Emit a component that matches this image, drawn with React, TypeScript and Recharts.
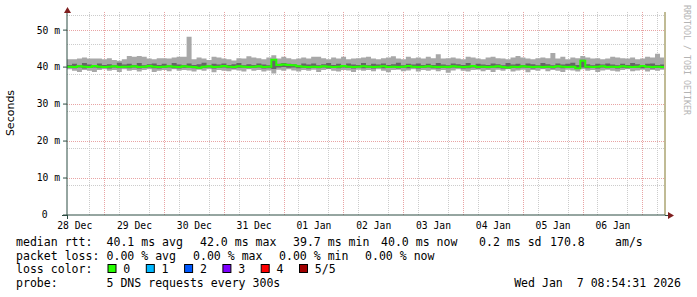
import React from "react";
import { ComposedChart, Area, Line, XAxis, YAxis, CartesianGrid, ReferenceLine } from "recharts";

// time axis in hours from 28 Dec 00:00, one bin = 2h, graph ends Wed Jan 7 08:54
const START_HOUR = 8.9;
const STEP_HOURS = 2;
const END_HOUR = 248.9;

const DAY_TICKS = [12, 36, 60, 84, 108, 132, 156, 180, 204, 228];
const DAY_LABELS = ["28 Dec", "29 Dec", "30 Dec", "31 Dec", "01 Jan", "02 Jan", "03 Jan", "04 Jan", "05 Jan", "06 Jan"];
const Y_TICKS = [0, 10, 20, 30, 40, 50];

const MINOR_V = [12, 18, 30, 36, 42, 54, 60, 66, 78, 84, 90, 102, 108, 114, 126, 132, 138, 150, 156, 162, 174, 180, 186, 198, 204, 210, 222, 228, 234, 246];
const MAJOR_V = [24, 48, 72, 96, 120, 144, 168, 192, 216, 240];
const MINOR_H = [2, 4, 6, 8, 12, 14, 16, 18, 22, 24, 26, 28, 32, 34, 36, 38, 42, 44, 46, 48, 52, 54];
const MAJOR_H = [10, 20, 30, 40, 50];

// smoke, in ms: max ping, 4th, median, 2nd, min ping (12 bins per day)
const MAX_RTT = [
  42.1, 42.1, 42.3, 42.6, 42.3, 42.3, 42.3, 42.1, 42.4, 41.9, 41.7, 42.1,
  43.0, 42.8, 43.0, 42.8, 42.3, 42.1, 42.4, 42.4, 42.3, 42.6, 42.8, 42.8,
  48.2, 42.1, 42.6, 42.3, 41.9, 42.8, 42.6, 42.3, 42.1, 41.8, 42.4, 42.3,
  42.9, 42.6, 42.4, 42.1, 42.6, 43.2, 42.3, 42.8, 42.4, 42.1, 42.3, 42.6,
  42.3, 42.8, 42.8, 42.4, 42.1, 42.6, 42.3, 42.8, 42.1, 42.3, 42.4, 42.6,
  42.8, 42.3, 42.1, 42.4, 42.6, 42.9, 42.3, 42.1, 42.8, 42.4, 42.6, 42.3,
  42.8, 42.4, 43.5, 42.3, 42.4, 42.6, 42.3, 42.1, 42.8, 42.6, 42.3, 42.1,
  42.6, 42.8, 42.4, 42.3, 42.1, 42.6, 43.0, 42.6, 42.3, 42.1, 42.4, 42.6,
  42.4, 43.8, 42.3, 42.8, 42.1, 42.6, 42.4, 43.0, 42.6, 42.3, 42.4, 42.1,
  42.3, 42.8, 42.6, 42.4, 42.3, 42.6, 42.1, 42.3, 42.8, 42.6, 43.6, 42.6,
];
const Q4_RTT = [
  40.6, 40.9, 40.5, 41.1, 40.7, 40.5, 41.0, 40.6, 40.8, 40.5, 41.2, 40.7,
  40.9, 40.6, 41.1, 40.5, 40.8, 41.0, 40.6, 40.9, 40.5, 41.1, 40.7, 40.6,
  41.0, 40.6, 40.8, 41.2, 40.5, 40.9, 40.7, 41.0, 40.6, 40.8, 41.1, 40.5,
  40.8, 40.6, 41.0, 40.7, 40.5, 42.2, 40.9, 41.1, 40.9, 40.8, 40.5, 41.0,
  40.7, 41.0, 40.5, 40.8, 41.1, 40.6, 40.9, 40.5, 41.0, 40.7, 40.6, 41.1,
  40.5, 40.9, 40.7, 41.0, 40.6, 40.8, 41.2, 40.5, 40.9, 40.7, 41.0, 40.6,
  40.9, 40.6, 41.1, 40.7, 40.5, 41.0, 40.8, 40.6, 41.1, 40.5, 40.9, 40.7,
  40.6, 41.0, 40.8, 40.5, 41.1, 40.7, 40.9, 40.6, 41.0, 40.8, 40.5, 41.1,
  40.8, 40.5, 41.0, 40.7, 40.9, 41.2, 40.6, 42.0, 40.8, 40.5, 40.9, 40.7,
  41.0, 40.7, 40.5, 40.9, 40.6, 41.1, 40.8, 40.5, 40.9, 41.0, 40.6, 40.7,
];
const MEDIAN_RTT = [
  40.1, 40.0, 40.2, 40.1, 40.0, 40.3, 40.1, 40.0, 40.1, 40.2, 40.0, 40.1,
  40.1, 40.2, 40.0, 40.1, 40.3, 40.1, 40.0, 40.1, 40.2, 40.1, 40.0, 40.2,
  40.1, 40.0, 39.8, 40.1, 40.2, 40.0, 40.1, 40.3, 40.1, 40.0, 40.2, 40.1,
  40.0, 40.1, 40.2, 40.0, 40.1, 42.0, 40.6, 40.7, 40.6, 40.5, 40.2, 40.1,
  40.0, 40.1, 40.0, 40.2, 40.1, 40.0, 40.1, 40.3, 40.1, 40.0, 40.1, 40.2,
  40.1, 40.0, 40.1, 40.2, 40.0, 40.1, 40.0, 40.1, 40.3, 40.1, 40.0, 40.1,
  40.2, 40.1, 40.0, 40.1, 40.0, 40.2, 40.1, 40.0, 40.1, 40.3, 40.0, 40.1,
  40.0, 40.1, 40.2, 40.0, 39.9, 40.1, 40.0, 40.2, 40.1, 40.0, 40.1, 40.0,
  40.1, 40.0, 40.2, 40.1, 40.0, 40.1, 39.7, 41.7, 40.1, 40.0, 40.1, 40.2,
  40.0, 40.1, 40.0, 40.2, 40.1, 40.0, 40.1, 40.3, 40.1, 40.0, 40.1, 40.0,
];
const Q2_RTT = [
  39.8, 39.7, 39.9, 39.6, 39.8, 39.9, 39.7, 39.8, 39.6, 39.9, 39.7, 39.8,
  39.7, 39.9, 39.6, 39.8, 39.9, 39.7, 39.6, 39.8, 39.9, 39.7, 39.6, 39.8,
  39.9, 39.7, 39.6, 39.8, 39.9, 39.6, 39.8, 39.9, 39.7, 39.6, 39.8, 39.9,
  39.7, 39.8, 39.9, 39.6, 39.7, 39.5, 39.9, 40.0, 39.8, 39.9, 39.7, 39.8,
  39.6, 39.8, 39.7, 39.9, 39.6, 39.8, 39.7, 39.9, 39.8, 39.6, 39.9, 39.7,
  39.8, 39.6, 39.9, 39.7, 39.8, 39.9, 39.6, 39.8, 39.7, 39.9, 39.6, 39.8,
  39.9, 39.7, 39.6, 39.8, 39.7, 39.9, 39.8, 39.6, 39.7, 39.9, 39.6, 39.8,
  39.7, 39.9, 39.8, 39.6, 39.6, 39.8, 39.7, 39.9, 39.8, 39.6, 39.9, 39.7,
  39.8, 39.6, 39.9, 39.7, 39.8, 39.9, 39.6, 39.9, 39.7, 39.8, 39.6, 39.9,
  39.7, 39.9, 39.6, 39.8, 39.7, 39.9, 39.8, 39.7, 39.9, 39.6, 39.8, 39.7,
];
const MIN_RTT = [
  39.4, 39.0, 38.7, 39.2, 39.0, 38.7, 39.2, 39.4, 39.0, 39.2, 38.7, 39.4,
  39.0, 39.2, 38.8, 39.2, 39.4, 38.7, 39.0, 39.2, 38.9, 39.4, 39.0, 39.2,
  39.1, 38.8, 39.3, 39.0, 39.4, 38.6, 39.2, 39.0, 38.9, 39.3, 39.1, 38.8,
  39.4, 39.0, 39.2, 38.8, 39.1, 38.3, 39.3, 39.0, 39.4, 39.1, 38.8, 39.2,
  39.0, 39.3, 38.7, 39.2, 39.4, 39.0, 38.8, 39.2, 39.1, 38.7, 39.3, 39.0,
  39.2, 38.9, 39.4, 39.0, 38.6, 39.2, 39.3, 38.9, 39.1, 39.4, 38.8, 39.2,
  39.0, 39.3, 38.9, 39.2, 38.5, 39.1, 39.4, 39.0, 38.8, 39.2, 39.3, 38.9,
  39.2, 38.7, 39.3, 39.0, 39.4, 38.8, 39.1, 39.3, 38.6, 39.2, 39.0, 39.4,
  38.9, 39.2, 39.0, 38.7, 39.3, 39.1, 38.8, 39.4, 39.0, 39.2, 38.7, 39.1,
  39.3, 39.0, 38.8, 39.2, 39.4, 38.9, 39.1, 39.3, 38.8, 39.2, 39.0, 39.3,
];

const LOSS_COLORS = [
  { label: "0", color: "#26ff00" },
  { label: "1", color: "#00b8ff" },
  { label: "2", color: "#0059ff" },
  { label: "3", color: "#7e00ff" },
  { label: "4", color: "#ff0000" },
  { label: "5/5", color: "#a10000" },
];

const RTT_LINE = [
  { x: 16, text: "median rtt:" },
  { x: 106.5, text: "40.1 ms avg" },
  { x: 200, text: "42.0 ms max" },
  { x: 293, text: "39.7 ms min" },
  { x: 381, text: "40.0 ms now" },
  { x: 479, text: "0.2 ms sd" },
  { x: 550, text: "170.8" },
  { x: 615, text: "am/s" },
];
const LOSS_LINE = [
  { x: 16, text: "packet loss:" },
  { x: 106.5, text: "0.00 % avg" },
  { x: 193, text: "0.00 % max" },
  { x: 279, text: "0.00 % min" },
  { x: 365, text: "0.00 % now" },
];

const rows = MAX_RTT.map((hi, i) => ({
  t: START_HOUR + STEP_HOURS * i,
  hi,
  q4: Q4_RTT[i],
  med: MEDIAN_RTT[i],
  q2: Q2_RTT[i],
  lo: MIN_RTT[i],
}));
rows.push({ ...rows[rows.length - 1], t: END_HOUR });

const MONO = "'DejaVu Sans Mono', monospace";
const AXIS = "#2c4d43";
const ARROW = "#7f1f1f";
const PRE = { whiteSpace: "pre" as const };

const YTick = (props: any) => {
  const { x, y, payload } = props;
  const v = payload.value;
  return (
    <text x={v === 0 ? x - 12.5 : x} y={y} dy={3.4} textAnchor="end" fontFamily={MONO} fontSize={9.7} fill="#000">
      {v === 0 ? "0" : `${v} m`}
    </text>
  );
};

const XTick = (props: any) => {
  const { x, y, payload } = props;
  const idx = DAY_TICKS.indexOf(payload.value);
  return (
    <text x={x} y={y} dy={13.5} textAnchor="middle" fontFamily={MONO} fontSize={9.7} fill="#000">
      {DAY_LABELS[idx]}
    </text>
  );
};

export default function App() {
  return (
    <div style={{ position: "absolute", left: 0, top: 0, width: 697, height: 297, background: "#fff" }}>
      <ComposedChart width={697} height={297} data={rows} margin={{ top: 12, right: 32, bottom: 62, left: 0 }}>
        <CartesianGrid
          stroke="#cccccc"
          strokeDasharray="1 1"
          shapeRendering="crispEdges"
          verticalValues={MINOR_V}
          horizontalValues={MINOR_H}
        />
        <CartesianGrid
          stroke="#e8a4a4"
          strokeDasharray="1 1"
          shapeRendering="crispEdges"
          verticalValues={MAJOR_V}
          horizontalValues={MAJOR_H}
        />
        <XAxis
          dataKey="t"
          type="number"
          domain={[START_HOUR, END_HOUR]}
          ticks={DAY_TICKS}
          tick={<XTick />}
          tickLine={false}
          tickSize={0}
          tickMargin={0}
          height={20}
          stroke={AXIS}
          allowDataOverflow
        />
        <YAxis
          type="number"
          domain={[0, 54.9]}
          ticks={Y_TICKS}
          tick={<YTick />}
          tickSize={4}
          tickMargin={3}
          width={67}
          stroke={AXIS}
          allowDataOverflow
        />
        <Area
          type="stepAfter"
          dataKey={(d: any) => [d.lo, d.hi]}
          fill="#a8a8a8"
          fillOpacity={1}
          stroke="none"
          isAnimationActive={false}
        />
        <Area
          type="stepAfter"
          dataKey={(d: any) => [d.q2, d.q4]}
          fill="#666666"
          fillOpacity={1}
          stroke="none"
          isAnimationActive={false}
        />
        <Line
          type="stepAfter"
          dataKey="med"
          stroke="#26ff00"
          strokeWidth={2}
          dot={false}
          isAnimationActive={false}
        />
        <ReferenceLine x={END_HOUR} stroke="#c0bb95" strokeWidth={2} />
      </ComposedChart>

      <svg width={697} height={297} style={{ position: "absolute", left: 0, top: 0, pointerEvents: "none" }}>
        {/* axis stubs and arrows */}
        <line x1={62} y1={215.5} x2={67} y2={215.5} stroke={AXIS} />
        <line x1={665} y1={215.5} x2={669} y2={215.5} stroke={AXIS} />
        <line x1={67.5} y1={215} x2={67.5} y2={219} stroke={AXIS} />
        <line x1={67.5} y1={12} x2={67.5} y2={9} stroke={AXIS} />
        <polygon points="64,13 71,13 67.5,7" fill={ARROW} />
        <polygon points="668,212 668,219 674,215.5" fill={ARROW} />

        <text
          transform="translate(14,113) rotate(-90)"
          textAnchor="middle"
          fontFamily="'DejaVu Sans', sans-serif"
          fontSize={11}
          fill="#000"
        >
          Seconds
        </text>

        <text
          transform="translate(684,5) rotate(90)"
          fontFamily={MONO}
          fontSize={8.3}
          fill="#b4b4b4"
        >
          RRDTOOL / TOBI OETIKER
        </text>

        <g fontFamily={MONO} fontSize={11.55} fill="#000">
          {RTT_LINE.map((s) => (
            <text key={s.text} x={s.x} y={245.5} xmlSpace="preserve" style={PRE}>{s.text}</text>
          ))}
          {LOSS_LINE.map((s) => (
            <text key={s.text} x={s.x} y={259.5} xmlSpace="preserve" style={PRE}>{s.text}</text>
          ))}
          <text x={16} y={273.4}>loss color:</text>
          {LOSS_COLORS.map((c, i) => (
            <g key={c.label}>
              <rect x={108 + i * 38.3} y={264.5} width={8} height={8} fill={c.color} stroke="#000" strokeWidth={1} />
              <text x={123.3 + i * 38.3} y={273.4}>{c.label}</text>
            </g>
          ))}
          <text x={16} y={287.3}>probe:</text>
          <text x={106.5} y={287.3}>5 DNS requests every 300s</text>
          <text x={681} y={287.3} textAnchor="end" xmlSpace="preserve" style={PRE}>
            {"Wed Jan  7 08:54:31 2026"}
          </text>
        </g>
      </svg>
    </div>
  );
}
